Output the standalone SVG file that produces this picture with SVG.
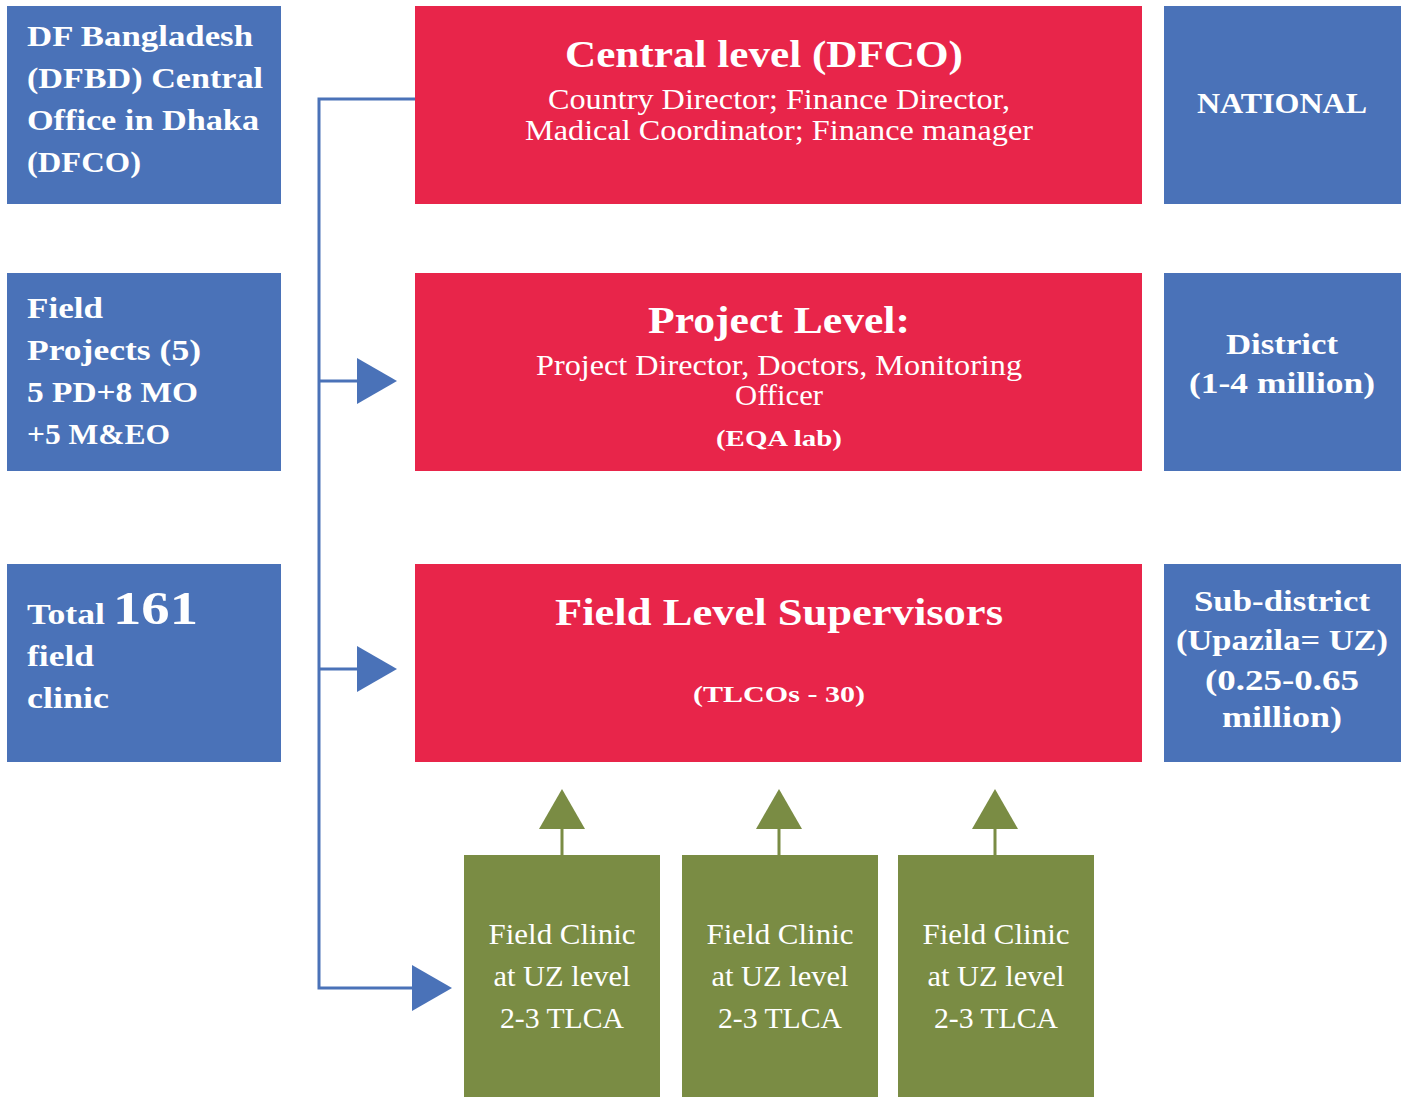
<svg xmlns="http://www.w3.org/2000/svg" width="1403" height="1097" viewBox="0 0 1403 1097">
<style>
.blue{fill:#4A72B8}
.red{fill:#E8254A}
.green{fill:#7A8C44}
text{fill:#fff;font-family:"Liberation Serif","DejaVu Serif",serif}
.l28{font-size:30px;font-weight:bold}
.t36{font-size:38px;font-weight:bold;text-anchor:middle}
.s28{font-size:29px;text-anchor:middle}
.s22{font-size:23px;font-weight:bold;text-anchor:middle}
.r28{font-size:30px;font-weight:bold;text-anchor:middle}
.g{font-size:30px;text-anchor:middle}
.conn{stroke:#4A72B8;stroke-width:3;fill:none}
.gconn{stroke:#7A8C44;stroke-width:3;fill:none}
</style>
<rect width="1403" height="1097" fill="#fff"/>
<g id="connectors">
<path class="conn" d="M415,99 H319 V988 H414"/>
<path class="conn" d="M319,381 H358 M319,669 H358"/>
<polygon fill="#4A72B8" points="357,358 397,381 357,404"/>
<polygon fill="#4A72B8" points="357,646 397,669 357,692"/>
<polygon fill="#4A72B8" points="412,965 452,988 412,1011"/>
<path class="gconn" d="M562,855 V828 M779,855 V828 M995,855 V828"/>
<polygon fill="#7A8C44" points="539,829 562,789 585,829"/>
<polygon fill="#7A8C44" points="756,829 779,789 802,829"/>
<polygon fill="#7A8C44" points="972,829 995,789 1018,829"/>
</g>
<g id="left1"><rect class="blue" x="7" y="6" width="274" height="198"/>
<text class="l28" x="27" y="46" textLength="226" lengthAdjust="spacingAndGlyphs">DF Bangladesh</text>
<text class="l28" x="27" y="88" textLength="236" lengthAdjust="spacingAndGlyphs">(DFBD) Central</text>
<text class="l28" x="27" y="130" textLength="232" lengthAdjust="spacingAndGlyphs">Office in Dhaka</text>
<text class="l28" x="27" y="172" textLength="114" lengthAdjust="spacingAndGlyphs">(DFCO)</text>
</g>
<g id="left2"><rect class="blue" x="7" y="273" width="274" height="198"/>
<text class="l28" x="27" y="318" textLength="76" lengthAdjust="spacingAndGlyphs">Field</text>
<text class="l28" x="27" y="360" textLength="174" lengthAdjust="spacingAndGlyphs">Projects (5)</text>
<text class="l28" x="27" y="402" textLength="171" lengthAdjust="spacingAndGlyphs">5 PD+8 MO</text>
<text class="l28" x="27" y="444" textLength="143" lengthAdjust="spacingAndGlyphs">+5 M&amp;EO</text>
</g>
<g id="left3"><rect class="blue" x="7" y="564" width="274" height="198"/>
<text class="l28" x="27" y="624"><tspan textLength="78" lengthAdjust="spacingAndGlyphs">Total</tspan><tspan x="113" font-size="46" textLength="85" lengthAdjust="spacingAndGlyphs">161</tspan></text>
<text class="l28" x="27" y="666" textLength="67" lengthAdjust="spacingAndGlyphs">field</text>
<text class="l28" x="27" y="708" textLength="82" lengthAdjust="spacingAndGlyphs">clinic</text>
</g>
<g id="central"><rect class="red" x="415" y="6" width="727" height="198"/>
<text class="t36" x="764" y="67" textLength="398" lengthAdjust="spacingAndGlyphs">Central level (DFCO)</text>
<text class="s28" x="779" y="109" textLength="462" lengthAdjust="spacingAndGlyphs">Country Director; Finance Director,</text>
<text class="s28" x="779" y="140" textLength="508" lengthAdjust="spacingAndGlyphs">Madical Coordinator; Finance manager</text>
</g>
<g id="project"><rect class="red" x="415" y="273" width="727" height="198"/>
<text class="t36" x="779" y="333" textLength="262" lengthAdjust="spacingAndGlyphs">Project Level:</text>
<text class="s28" x="779" y="375" textLength="486" lengthAdjust="spacingAndGlyphs">Project Director, Doctors, Monitoring</text>
<text class="s28" x="779" y="405" textLength="88" lengthAdjust="spacingAndGlyphs">Officer</text>
<text class="s22" x="779" y="446" textLength="126" lengthAdjust="spacingAndGlyphs">(EQA lab)</text>
</g>
<g id="field"><rect class="red" x="415" y="564" width="727" height="198"/>
<text class="t36" x="779" y="625" textLength="448" lengthAdjust="spacingAndGlyphs">Field Level Supervisors</text>
<text class="s22" x="779" y="702" textLength="172" lengthAdjust="spacingAndGlyphs">(TLCOs - 30)</text>
</g>
<g id="national"><rect class="blue" x="1164" y="6" width="237" height="198"/>
<text class="r28" x="1282" y="113" textLength="170" lengthAdjust="spacingAndGlyphs">NATIONAL</text>
</g>
<g id="district"><rect class="blue" x="1164" y="273" width="237" height="198"/>
<text class="r28" x="1282" y="354" textLength="112" lengthAdjust="spacingAndGlyphs">District</text>
<text class="r28" x="1282" y="393" textLength="186" lengthAdjust="spacingAndGlyphs">(1-4 million)</text>
</g>
<g id="subdistrict"><rect class="blue" x="1164" y="564" width="237" height="198"/>
<text class="r28" x="1282" y="611" textLength="176" lengthAdjust="spacingAndGlyphs">Sub-district</text>
<text class="r28" x="1282" y="650" textLength="212" lengthAdjust="spacingAndGlyphs">(Upazila= UZ)</text>
<text class="r28" x="1282" y="690" textLength="154" lengthAdjust="spacingAndGlyphs">(0.25-0.65</text>
<text class="r28" x="1282" y="727" textLength="120" lengthAdjust="spacingAndGlyphs">million)</text>
</g>
<g id="clinic1"><rect class="green" x="464" y="855" width="196" height="242"/>
<text class="g" x="562" y="944" textLength="147" lengthAdjust="spacingAndGlyphs">Field Clinic</text>
<text class="g" x="562" y="986" textLength="137" lengthAdjust="spacingAndGlyphs">at UZ level</text>
<text class="g" x="562" y="1028" textLength="124" lengthAdjust="spacingAndGlyphs">2-3 TLCA</text>
</g>
<g id="clinic2"><rect class="green" x="682" y="855" width="196" height="242"/>
<text class="g" x="780" y="944" textLength="147" lengthAdjust="spacingAndGlyphs">Field Clinic</text>
<text class="g" x="780" y="986" textLength="137" lengthAdjust="spacingAndGlyphs">at UZ level</text>
<text class="g" x="780" y="1028" textLength="124" lengthAdjust="spacingAndGlyphs">2-3 TLCA</text>
</g>
<g id="clinic3"><rect class="green" x="898" y="855" width="196" height="242"/>
<text class="g" x="996" y="944" textLength="147" lengthAdjust="spacingAndGlyphs">Field Clinic</text>
<text class="g" x="996" y="986" textLength="137" lengthAdjust="spacingAndGlyphs">at UZ level</text>
<text class="g" x="996" y="1028" textLength="124" lengthAdjust="spacingAndGlyphs">2-3 TLCA</text>
</g>
</svg>
